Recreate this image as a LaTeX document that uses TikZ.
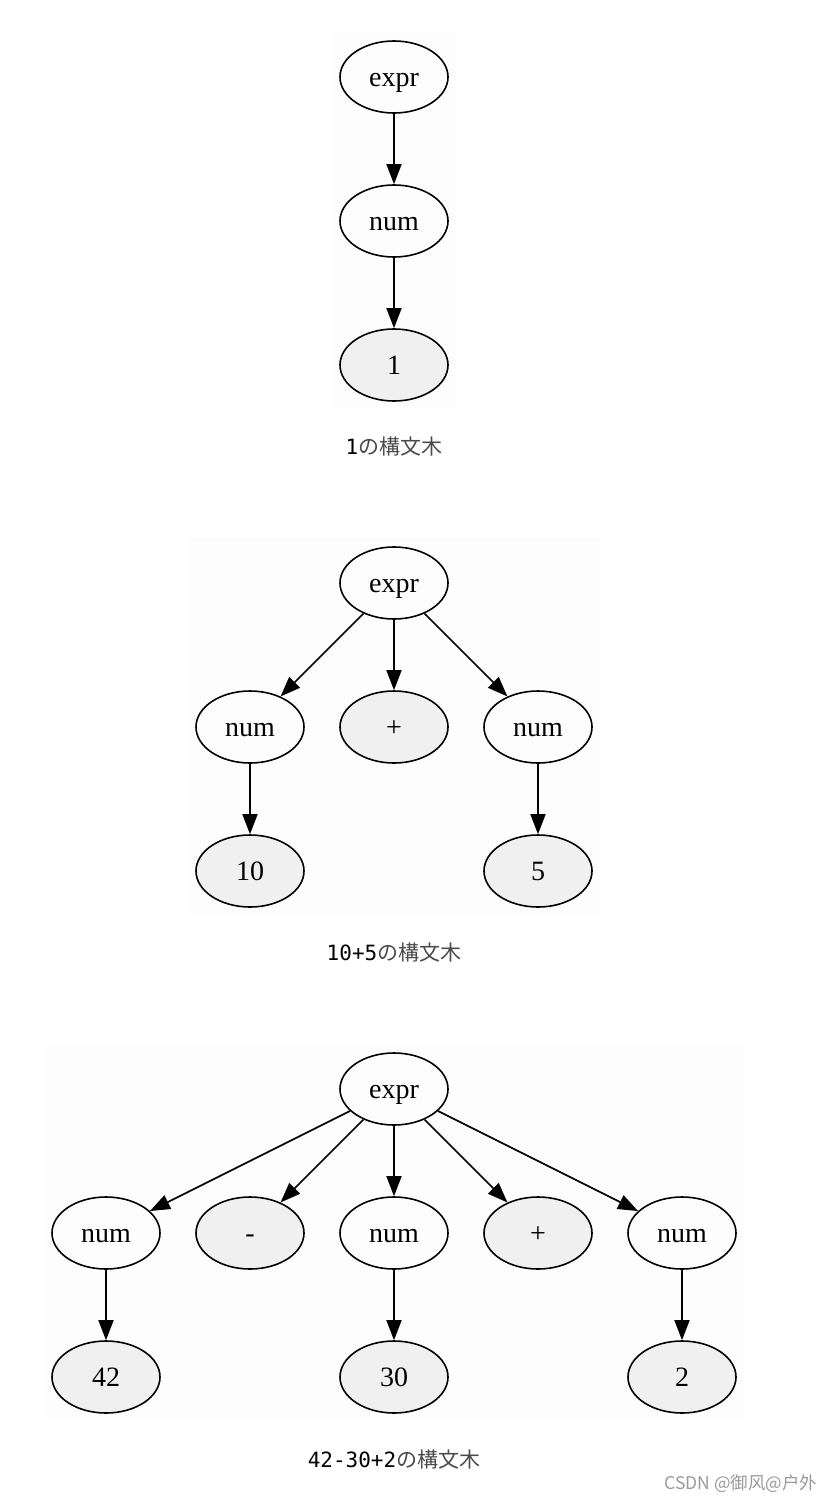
\documentclass[tikz,border=0pt]{standalone}
\usepackage{fontspec}
\setmainfont{Liberation Serif}
\newfontfamily\cjk{Noto Sans CJK JP}
\newfontfamily\monof{DejaVu Sans Mono}
\newfontfamily\wmfont{Noto Sans CJK SC}
\usetikzlibrary{arrows.meta,shapes.geometric}
\definecolor{leafgray}{HTML}{F0F0F0}
\definecolor{capgray}{HTML}{4A4A4A}
\definecolor{wmgray}{HTML}{9A9A9A}
\definecolor{panel}{HTML}{FDFDFD}
\begin{document}
\begin{tikzpicture}[x=1pt,y=-1pt,
  nt/.style={ellipse,draw,line width=1.6pt,minimum width=108pt,minimum height=72pt,inner sep=0pt,text height=20pt,text depth=2pt,font=\fontsize{28}{30}\selectfont},
  leaf/.style={nt,fill=leafgray},
  edge/.style={line width=1.6pt,-{Triangle[length=20pt,width=15pt]}},
  captext/.style={font=\fontsize{21}{24}\selectfont,text=capgray},
  panelbox/.style={fill=panel,draw=none}]
\useasboundingbox (0,0) rectangle (836,1502);
\fill[white] (0,0) rectangle (836,1502);
% panels
\fill[panelbox] (332,30) rectangle (456,410);
\fill[panelbox] (188,538) rectangle (600,916);
\fill[panelbox] (44,1044) rectangle (744,1420);
% graph 1
\node[nt] (a1) at (394,77) {expr};
\node[nt] (a2) at (394,221) {num};
\node[leaf] (a3) at (394,365) {1};
\draw[edge] (a1) -- (a2);
\draw[edge] (a2) -- (a3);
\node[captext] (c1) at (394,447) {\monof\color{black}1\cjk\color{capgray}の構文木};
% graph 2
\node[nt] (b1) at (394,583) {expr};
\node[nt] (b2) at (250,727) {num};
\node[leaf] (b3) at (394,727) {+};
\node[nt] (b4) at (538,727) {num};
\node[leaf] (b5) at (250,871) {10};
\node[leaf] (b6) at (538,871) {5};
\draw[edge] (b1) -- (b2);
\draw[edge] (b1) -- (b3);
\draw[edge] (b1) -- (b4);
\draw[edge] (b2) -- (b5);
\draw[edge] (b4) -- (b6);
\node[captext] (c2) at (394,953) {\monof\color{black}10+5\cjk\color{capgray}の構文木};
% graph 3
\node[nt] (d1) at (394,1089) {expr};
\node[nt] (d2) at (106,1233) {num};
\node[leaf] (d3) at (250,1233) {-};
\node[nt] (d4) at (394,1233) {num};
\node[leaf] (d5) at (538,1233) {+};
\node[nt] (d6) at (682,1233) {num};
\node[leaf] (d7) at (106,1377) {42};
\node[leaf] (d8) at (394,1377) {30};
\node[leaf] (d9) at (682,1377) {2};
\draw[edge] (d1) -- (d2);
\draw[edge] (d1) -- (d3);
\draw[edge] (d1) -- (d4);
\draw[edge] (d1) -- (d5);
\draw[edge] (d1) -- (d6);
\draw[edge] (d2) -- (d7);
\draw[edge] (d4) -- (d8);
\draw[edge] (d6) -- (d9);
\node[captext] (c3) at (394,1460) {\monof\color{black}42-30+2\cjk\color{capgray}の構文木};
% watermark
\node[font=\wmfont\fontsize{17.5}{20}\selectfont,text=wmgray,anchor=east] (wm) at (821,1484) {CSDN @御风@户外};
\end{tikzpicture}
\end{document}
